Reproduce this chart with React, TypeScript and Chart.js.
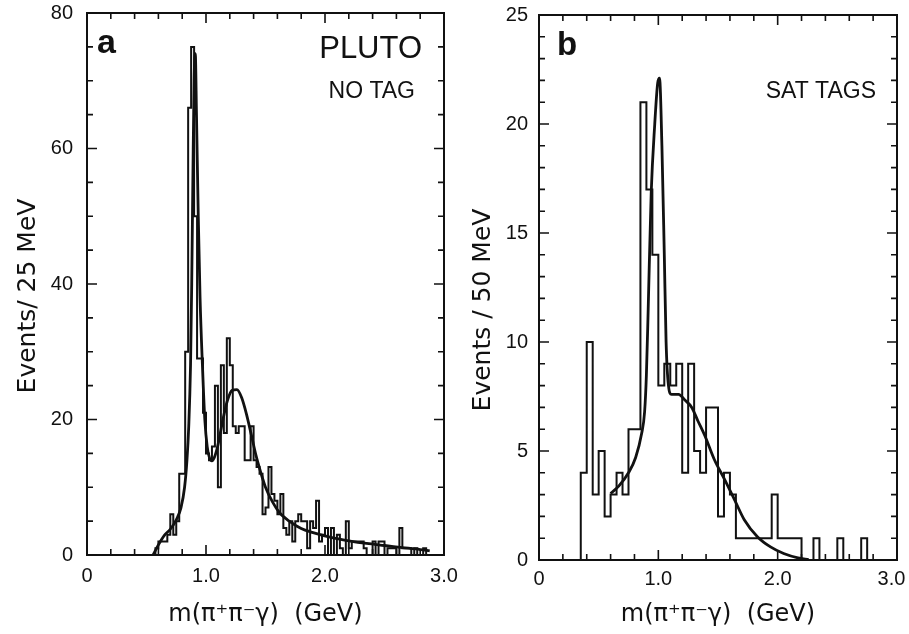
import React, { useEffect, useRef } from "react";
import { Chart, registerables } from "chart.js";

Chart.register(...registerables);

// ---------- Panel a (NO TAG) : 25 MeV bins ----------
const A_BIN_START = 0.575;
const A_BIN_WIDTH = 0.025;
const A_COUNTS = [
  1, 1, 2, 2, 2, 3, 6, 3, 5, 12,
  12, 30, 66, 75, 50, 29, 29, 21, 15, 14,
  16, 25, 10, 28, 18, 32, 28, 19, 18, 19,
  19, 14, 14, 19, 14, 13, 12, 6, 7, 13,
  9, 8, 6, 9, 4, 3, 5, 2, 5, 6,
  5, 5, 1, 5, 4, 8, 2, 3, 4, 0,
  4, 0, 3, 1, 0, 5, 1, 2, 2, 2,
  2, 1, 0, 0, 2, 0, 2, 2, 0, 1,
  1, 1, 0, 4, 1, 1, 1, 0, 1, 0,
  0, 1,
];
const A_FIT_X = [
  0.555, 0.6, 0.65, 0.7, 0.75, 0.79, 0.82, 0.84, 0.855, 0.87,
  0.88, 0.89, 0.9, 0.91, 0.92, 0.935, 0.95, 0.97, 0.99, 1.01,
  1.03, 1.05, 1.07, 1.1, 1.14, 1.18, 1.22, 1.26, 1.3, 1.34,
  1.38, 1.42, 1.46, 1.5, 1.56, 1.62, 1.7, 1.8, 1.9, 2.05,
  2.2, 2.35, 2.5, 2.65, 2.8, 2.88,
];
const A_FIT_Y = [
  0, 1.5, 2.9, 3.8, 5.2, 7.0, 10.0, 14.0, 19.0, 28.0,
  40, 56, 70, 74, 65, 50, 38, 28, 20, 16,
  14.3, 13.9, 14.4, 16.2, 19.8, 22.8, 24.3, 24.4, 23.2, 20.8,
  17.8, 14.7, 12.2, 10.0, 7.8, 6.2, 5.0, 3.9, 3.3, 2.6,
  2.1, 1.7, 1.4, 1.1, 0.8, 0.6,
];
const A_Y_LABELS = [0, 20, 40, 60, 80];

// ---------- Panel b (SAT TAGS) : 50 MeV bins ----------
const B_BIN_START = 0.35;
const B_BIN_WIDTH = 0.05;
const B_COUNTS = [
  1, 4, 10, 3, 5, 2, 3, 4, 3, 6,
  6, 21, 17, 14, 8, 9, 8, 9, 4, 9,
  5, 4, 7, 7, 2, 4, 3, 1, 1, 1,
  1, 1, 1, 3, 1, 1, 1, 1, 0, 0,
  1, 0, 0, 0, 1, 0, 0, 0, 1,
];
const B_FIT_X = [
  0.6, 0.67, 0.75, 0.81, 0.86, 0.885, 0.9, 0.915, 0.94, 0.97,
  0.995, 1.01, 1.03, 1.05, 1.065, 1.085, 1.11, 1.17, 1.22, 1.28,
  1.33, 1.39, 1.47, 1.555, 1.64, 1.72, 1.83, 1.94, 2.05, 2.17,
  2.26,
];
const B_FIT_Y = [
  3.05, 3.4, 4.0, 4.7, 5.8, 6.8, 8.5, 11.5, 16.8, 20.0,
  21.9, 22.1, 19.0, 14.0, 10.0, 8.0, 7.6, 7.6, 7.35, 7.0,
  6.4, 5.7, 4.6, 3.7, 2.75, 1.85, 1.07, 0.6, 0.3, 0.1,
  0.02,
];
const B_Y_LABELS = [0, 5, 10, 15, 20, 25];

const X_LABELS = [0, 1, 2, 3];
const X_TITLE = "m(\u03C0\u207A\u03C0\u207B\u03B3)  (GeV)";

const INK = "#111";
const SANS = "'Liberation Sans', Arial, sans-serif";
const WIDE = "'DejaVu Sans', 'Liberation Sans', sans-serif";

function histPoints(start: number, width: number, counts: number[]) {
  const pts: { x: number; y: number }[] = [{ x: start, y: 0 }];
  counts.forEach((c, i) => pts.push({ x: start + i * width, y: c }));
  pts.push({ x: start + counts.length * width, y: 0 });
  return pts;
}

function fitPoints(xs: number[], ys: number[]) {
  return xs.map((x, i) => ({ x, y: ys[i] }));
}

type TextItem = {
  text: string;
  dx: number;
  dy: number;
  align: "left" | "right";
  font: string;
};

type PanelOpts = {
  xMinor: number;
  xMajor: number;
  yMinor: number;
  yMajor: number;
  texts: TextItem[];
  yTitle: string;
  yTitleDx: number;
  yTitleY: number;
};

const framePlugin = {
  id: "frameTicks",
  afterDraw(chart: any, _args: any, opts: PanelOpts) {
    const { ctx, chartArea } = chart;
    const xs = chart.scales.x;
    const ys = chart.scales.y;
    const { left, right, top, bottom } = chartArea;
    ctx.save();
    ctx.strokeStyle = INK;
    ctx.lineWidth = 2;
    ctx.strokeRect(left, top, right - left, bottom - top);
    ctx.lineWidth = 1.6;
    const isMajor = (v: number, m: number) => Math.abs(v / m - Math.round(v / m)) < 1e-6;
    ctx.beginPath();
    for (let k = 0; k * opts.xMinor <= xs.max + 1e-9; k++) {
      const v = k * opts.xMinor;
      const px = xs.getPixelForValue(v);
      const len = isMajor(v, opts.xMajor) ? 10 : 6;
      ctx.moveTo(px, bottom);
      ctx.lineTo(px, bottom - len);
      ctx.moveTo(px, top);
      ctx.lineTo(px, top + len);
    }
    for (let k = 0; k * opts.yMinor <= ys.max + 1e-9; k++) {
      const v = k * opts.yMinor;
      const py = ys.getPixelForValue(v);
      const len = isMajor(v, opts.yMajor) ? 10 : 6;
      ctx.moveTo(left, py);
      ctx.lineTo(left + len, py);
      ctx.moveTo(right, py);
      ctx.lineTo(right - len, py);
    }
    ctx.stroke();

    ctx.fillStyle = INK;
    ctx.textBaseline = "alphabetic";
    for (const t of opts.texts) {
      ctx.font = t.font;
      ctx.textAlign = t.align;
      const x = t.align === "left" ? left + t.dx : right - t.dx;
      ctx.fillText(t.text, x, top + t.dy);
    }

    ctx.save();
    ctx.translate(left - opts.yTitleDx, opts.yTitleY);
    ctx.rotate(-Math.PI / 2);
    ctx.font = `25px ${WIDE}`;
    ctx.textAlign = "center";
    ctx.textBaseline = "middle";
    ctx.fillText(opts.yTitle, 0, 0);
    ctx.restore();
    ctx.restore();
  },
};

const noScalePadding = (s: any) => {
  s.paddingLeft = 0;
  s.paddingRight = 0;
  s.paddingTop = 0;
  s.paddingBottom = 0;
};

function makeConfig(p: {
  start: number;
  width: number;
  counts: number[];
  fitX: number[];
  fitY: number[];
  yMax: number;
  yLabels: number[];
  yAxisWidth: number;
  xAxisHeight: number;
  padTop: number;
  padRight: number;
  yTickPad: number;
  xTickPad: number;
  lastLabelPad: string;
  panel: PanelOpts;
}): any {
  return {
    type: "line",
    data: {
      datasets: [
        {
          data: histPoints(p.start, p.width, p.counts),
          stepped: "after",
          borderColor: INK,
          borderWidth: 2,
          pointRadius: 0,
          fill: false,
        },
        {
          data: fitPoints(p.fitX, p.fitY),
          borderColor: INK,
          borderWidth: 2.8,
          pointRadius: 0,
          cubicInterpolationMode: "monotone",
          fill: false,
        },
      ],
    },
    options: {
      responsive: false,
      animation: false,
      devicePixelRatio: 1,
      layout: { padding: { top: p.padTop, right: p.padRight, left: 0, bottom: 0 } },
      plugins: {
        legend: { display: false },
        tooltip: { enabled: false },
        frameTicks: p.panel,
      },
      scales: {
        x: {
          type: "linear",
          min: 0,
          max: 3,
          grid: { display: false, drawTicks: false },
          border: { display: false },
          afterBuildTicks: (s: any) => {
            s.ticks = X_LABELS.map((v) => ({ value: v }));
          },
          afterFit: (s: any) => {
            s.height = p.xAxisHeight;
            noScalePadding(s);
          },
          ticks: {
            autoSkip: false,
            maxRotation: 0,
            padding: p.xTickPad,
            color: INK,
            font: { family: SANS, size: 20 },
            callback: (v: number) =>
              v === 0 ? "0" : v === 3 ? "3.0" + p.lastLabelPad : Number(v).toFixed(1),
          },
          title: {
            display: true,
            text: X_TITLE,
            color: INK,
            font: { family: WIDE, size: 24 },
            padding: { top: 0, bottom: 5 },
          },
        },
        y: {
          type: "linear",
          min: 0,
          max: p.yMax,
          grid: { display: false, drawTicks: false },
          border: { display: false },
          afterBuildTicks: (s: any) => {
            s.ticks = p.yLabels.map((v) => ({ value: v }));
          },
          afterFit: (s: any) => {
            s.width = p.yAxisWidth;
            noScalePadding(s);
          },
          ticks: {
            padding: p.yTickPad,
            color: INK,
            font: { family: SANS, size: 20 },
          },
        },
      },
    },
    plugins: [framePlugin],
  };
}

function Panel({ left, width, config }: { left: number; width: number; config: any }) {
  const ref = useRef<HTMLCanvasElement>(null);
  useEffect(() => {
    const chart = new Chart(ref.current as HTMLCanvasElement, config);
    return () => chart.destroy();
  }, []);
  return (
    <canvas
      ref={ref}
      width={width}
      height={634}
      style={{ position: "absolute", left, top: 0, width, height: 634 }}
    />
  );
}

export default function App() {
  const configA = makeConfig({
    start: A_BIN_START,
    width: A_BIN_WIDTH,
    counts: A_COUNTS,
    fitX: A_FIT_X,
    fitY: A_FIT_Y,
    yMax: 80,
    yLabels: A_Y_LABELS,
    yAxisWidth: 87,
    xAxisHeight: 79,
    padTop: 13,
    padRight: 16,
    yTickPad: 14,
    xTickPad: 9,
    lastLabelPad: "",
    panel: {
      xMinor: 0.2,
      xMajor: 1,
      yMinor: 5,
      yMajor: 20,
      yTitle: "Events/ 25 MeV",
      yTitleDx: 59,
      yTitleY: 296,
      texts: [
        { text: "a", dx: 10, dy: 40, align: "left", font: `bold 34px ${SANS}` },
        { text: "PLUTO", dx: 22, dy: 45, align: "right", font: `31px ${SANS}` },
        { text: "NO TAG", dx: 29, dy: 85, align: "right", font: `23px ${SANS}` },
      ],
    },
  });
  const configB = makeConfig({
    start: B_BIN_START,
    width: B_BIN_WIDTH,
    counts: B_COUNTS,
    fitX: B_FIT_X,
    fitY: B_FIT_Y,
    yMax: 25,
    yLabels: B_Y_LABELS,
    yAxisWidth: 84,
    xAxisHeight: 74,
    padTop: 15,
    padRight: 12,
    yTickPad: 11,
    xTickPad: 7,
    lastLabelPad: "  ",
    panel: {
      xMinor: 0.2,
      xMajor: 1,
      yMinor: 1,
      yMajor: 5,
      yTitle: "Events / 50 MeV",
      yTitleDx: 56,
      yTitleY: 310,
      texts: [
        { text: "b", dx: 18, dy: 40, align: "left", font: `bold 33px ${SANS}` },
        { text: "SAT TAGS", dx: 21, dy: 83, align: "right", font: `23px ${SANS}` },
      ],
    },
  });
  return (
    <div style={{ position: "absolute", left: 0, top: 0, width: 909, height: 634, background: "#fff", overflow: "hidden" }}>
      <Panel left={0} width={460} config={configA} />
      <Panel left={455} width={454} config={configB} />
    </div>
  );
}
